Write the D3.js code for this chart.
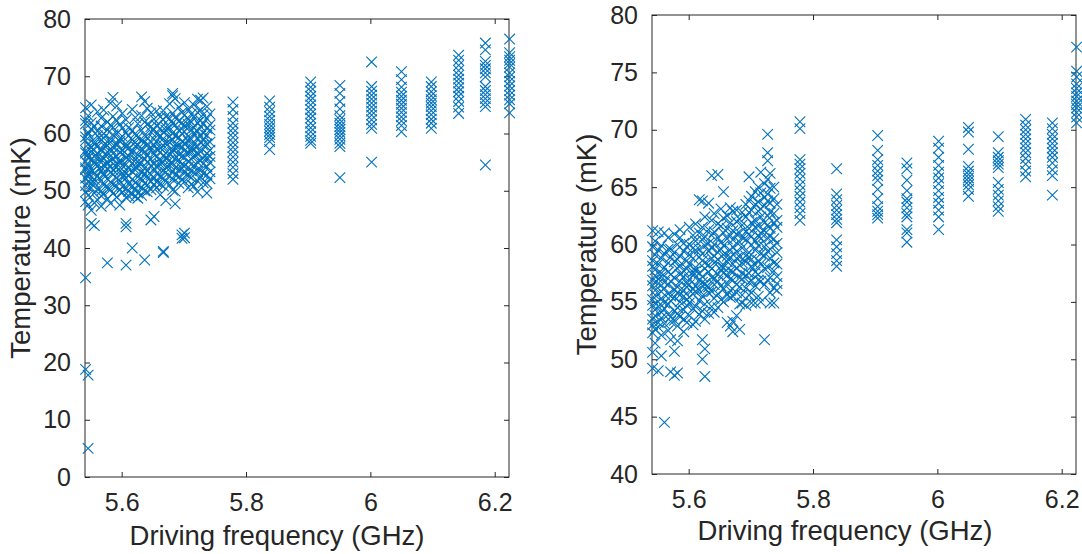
<!DOCTYPE html>
<html>
<head>
<meta charset="utf-8">
<script src="https://cdn.jsdelivr.net/npm/d3@7"></script>
<style>
  body { margin: 0; background: #fff; }
  text { font-family: "Liberation Sans", Arial, sans-serif; fill: #262626; }
</style>
</head>
<body>
<div id="container"></div>
<script>
/* CONSTANTS AND GLOBALS */
const width = 1082,
  height = 554,
  markerColor = "#0072BD",
  axisColor = "#262626";

/* DATA */
// x limits and ticks (GHz), shared by both panels
const xDomain = [5.541, 6.223];
const xTicks = [5.6, 5.8, 6, 6.2];
const leftYTicks = [0, 10, 20, 30, 40, 50, 60, 70, 80];
const rightYTicks = [40, 45, 50, 55, 60, 65, 70, 75, 80];

// dense sweep below 5.75 GHz
const clusterFreqs = [5.542, 5.546, 5.551, 5.556, 5.561, 5.567, 5.571, 5.577, 5.582, 5.586,
  5.592, 5.597, 5.601, 5.607, 5.611, 5.617, 5.622, 5.626, 5.632, 5.637,
  5.641, 5.647, 5.652, 5.656, 5.662, 5.667, 5.671, 5.677, 5.682, 5.686,
  5.692, 5.697, 5.701, 5.707, 5.712, 5.716, 5.722, 5.727, 5.731, 5.737, 5.742];

// sparse frequencies above 5.75 GHz
const columnFreqs = [5.779, 5.838, 5.904, 5.951, 6.002, 6.05, 6.098, 6.142, 6.185, 6.224];

// left panel temperatures (mK)
const leftClusterTemps = [
  [64.5, 62.3, 61.7, 59.4, 58.8, 57.0, 56.6, 55.1, 54.0, 53.7, 52.2, 50.9, 49.8, 48.1, 34.8, 18.8],
  [63.1, 60.2, 59.9, 58.1, 56.3, 55.8, 54.6, 52.9, 52.4, 51.6, 49.2, 47.5, 17.8, 5.0],
  [65.0, 61.9, 60.8, 57.5, 56.9, 55.4, 53.8, 53.3, 51.2, 50.5, 46.6, 44.3],
  [61.2, 58.6, 58.2, 56.0, 55.0, 54.8, 53.1, 52.0, 51.4, 49.6, 47.9, 43.9],
  [63.8, 60.4, 59.6, 57.7, 56.6, 55.9, 54.3, 52.6, 50.3, 48.4],
  [62.7, 61.3, 58.9, 57.2, 57.0, 55.5, 54.1, 53.5, 51.8, 50.0, 49.1, 47.3],
  [64.1, 60.0, 59.2, 58.0, 55.7, 54.5, 53.0, 52.7, 51.0, 49.4],
  [62.0, 60.6, 57.9, 56.8, 56.2, 54.9, 53.9, 52.1, 50.6, 48.6, 37.4],
  [65.3, 61.5, 59.0, 58.5, 57.3, 55.2, 54.2, 53.2, 51.5, 50.2, 47.8],
  [66.3, 63.0, 61.0, 59.8, 57.6, 56.5, 55.6, 53.6, 52.8, 51.1, 49.5],
  [64.8, 62.2, 60.0, 58.3, 57.9, 56.0, 54.7, 54.1, 52.3, 50.8, 48.9],
  [61.6, 59.1, 58.6, 56.7, 55.3, 55.0, 53.4, 51.7, 50.1, 47.5],
  [63.5, 60.9, 59.5, 57.1, 56.4, 54.4, 53.1, 52.5, 50.7, 49.7],
  [62.4, 60.1, 58.2, 57.6, 55.8, 54.6, 53.0, 52.2, 50.4, 48.8, 44.3, 43.7, 37.0],
  [61.0, 59.6, 57.4, 56.1, 55.5, 53.9, 52.7, 51.2, 49.9, 49.1],
  [64.2, 60.5, 58.9, 57.0, 56.6, 54.8, 53.3, 52.0, 50.9, 49.4, 40.0],
  [62.8, 60.0, 58.4, 57.8, 55.4, 54.2, 53.6, 51.4, 50.3, 49.0],
  [61.7, 59.3, 58.0, 56.3, 55.1, 54.5, 52.4, 51.0, 49.6, 48.7],
  [66.4, 63.1, 60.6, 58.7, 57.4, 56.9, 54.9, 53.2, 52.1, 50.6, 49.2],
  [65.6, 62.0, 59.7, 58.5, 56.8, 55.6, 54.0, 52.9, 51.3, 50.0, 37.9],
  [64.4, 61.6, 59.2, 58.1, 56.2, 55.0, 53.5, 52.6, 51.0, 49.8],
  [63.6, 61.2, 60.3, 57.6, 57.1, 55.5, 54.4, 52.8, 51.6, 50.2, 44.9],
  [62.5, 60.7, 59.0, 58.0, 56.5, 54.7, 53.8, 52.3, 51.1, 45.5],
  [63.9, 61.4, 59.9, 58.6, 57.3, 55.9, 54.2, 53.0, 51.5, 50.5],
  [62.9, 60.9, 59.5, 57.5, 56.8, 55.2, 54.6, 52.5, 51.2, 49.3],
  [64.0, 62.4, 60.2, 59.1, 57.9, 56.1, 55.0, 53.5, 52.2, 50.8, 39.4, 39.2],
  [63.0, 61.1, 60.6, 58.2, 56.6, 55.7, 54.1, 53.2, 51.7, 48.3],
  [65.2, 62.6, 61.0, 59.4, 58.4, 56.4, 55.3, 54.5, 52.6, 51.0],
  [67.0, 66.6, 63.5, 61.8, 60.1, 58.9, 57.2, 56.7, 54.8, 53.4, 52.0, 50.1],
  [66.1, 62.8, 61.5, 59.6, 58.0, 57.5, 55.6, 54.0, 52.8, 49.9, 47.7],
  [64.6, 62.1, 60.5, 59.3, 57.8, 56.3, 55.4, 53.7, 52.4, 51.3],
  [63.7, 61.9, 60.0, 58.6, 57.6, 56.0, 54.6, 53.9, 52.0, 42.3, 41.7],
  [65.4, 63.2, 61.3, 60.3, 58.3, 57.0, 55.9, 54.3, 53.1, 51.6, 42.6, 41.8],
  [64.3, 62.5, 61.6, 59.5, 58.7, 56.7, 55.1, 54.1, 52.7, 50.5],
  [63.4, 62.0, 60.7, 59.0, 57.4, 56.9, 55.5, 53.5, 52.3, 51.1],
  [65.0, 62.9, 61.0, 60.0, 58.1, 57.3, 56.1, 54.4, 53.2, 50.8],
  [66.0, 63.7, 61.9, 60.4, 59.2, 57.7, 56.4, 55.0, 53.4, 51.7, 49.8],
  [65.8, 64.1, 62.3, 61.2, 59.6, 58.4, 56.8, 55.3, 53.6, 52.4],
  [66.2, 63.3, 61.7, 60.1, 58.9, 58.0, 55.7, 54.7, 53.0, 51.4],
  [64.7, 62.6, 60.9, 59.7, 58.2, 56.5, 55.8, 54.2, 52.8, 51.3, 49.6],
  [63.4, 61.5, 60.6, 58.5, 57.1, 56.0, 54.9, 53.3, 52.1]
];
const leftColumnTemps = [
  [65.5, 64.2, 63.0, 61.8, 60.9, 60.1, 59.3, 58.4, 57.6, 56.8, 55.9, 55.0, 54.1, 53.0, 52.0],
  [65.7, 64.6, 63.8, 63.0, 62.3, 61.6, 61.0, 60.4, 59.8, 59.3, 58.6, 57.2],
  [69.0, 68.1, 67.4, 66.5, 65.8, 65.0, 64.2, 63.4, 62.7, 61.8, 61.0, 60.3, 59.5, 58.8, 58.3],
  [68.4, 67.0, 65.6, 64.3, 63.1, 62.4, 61.8, 61.2, 60.7, 60.2, 59.6, 59.0, 58.3, 57.7, 52.3],
  [72.5, 68.2, 67.4, 66.7, 66.0, 65.3, 64.6, 63.9, 63.2, 62.4, 61.6, 60.9, 55.0],
  [70.8, 69.4, 68.1, 67.2, 66.5, 65.8, 65.1, 64.4, 63.7, 62.9, 62.2, 61.4, 60.3],
  [69.0, 68.2, 67.3, 66.6, 65.9, 65.3, 64.7, 64.0, 63.3, 62.5, 61.8, 60.9],
  [73.7, 72.8, 71.9, 71.0, 70.2, 69.5, 68.8, 68.0, 67.3, 66.5, 65.6, 64.6, 63.5],
  [75.8, 74.6, 72.6, 71.9, 71.3, 70.6, 69.9, 68.2, 67.5, 66.8, 66.1, 65.4, 64.7, 54.5],
  [76.5, 74.1, 73.4, 72.8, 72.2, 71.6, 70.6, 69.9, 69.1, 68.3, 67.5, 66.7, 65.9, 65.2, 63.6]
];

// right panel temperatures (mK)
const rightClusterTemps = [
  [61.2, 59.8, 58.6, 58.1, 56.9, 56.4, 55.2, 54.7, 53.5, 53.0, 52.3, 50.6, 49.2],
  [60.3, 59.1, 57.8, 57.3, 56.0, 55.6, 54.3, 53.8, 52.6, 51.4],
  [61.1, 59.5, 58.3, 57.0, 56.6, 55.0, 54.6, 53.2, 52.8, 49.0],
  [59.9, 58.8, 57.5, 57.2, 55.9, 55.3, 54.1, 53.6, 52.1, 50.3],
  [61.0, 59.2, 58.0, 56.7, 56.2, 54.9, 54.4, 53.1, 44.5],
  [60.6, 59.6, 58.4, 57.6, 56.5, 55.7, 54.8, 53.9, 52.5],
  [59.6, 58.9, 57.4, 56.8, 55.5, 55.1, 53.7, 53.3, 51.7, 48.9],
  [60.9, 59.3, 58.5, 57.1, 56.1, 55.4, 54.2, 53.4, 50.7, 48.6],
  [60.0, 58.7, 57.9, 56.3, 55.8, 54.5, 54.0, 52.9, 51.6, 48.8],
  [61.3, 60.6, 59.0, 58.2, 57.4, 56.8, 55.6, 55.0, 53.7],
  [60.1, 59.4, 57.7, 57.2, 56.0, 55.5, 54.3, 53.5, 52.4],
  [59.8, 58.6, 57.9, 56.6, 56.3, 55.2, 54.7, 53.2],
  [61.5, 60.0, 59.1, 58.3, 57.0, 56.5, 55.4, 54.9, 53.8],
  [60.8, 59.7, 58.8, 57.6, 57.3, 56.1, 55.7, 54.4, 53.0],
  [61.8, 60.3, 59.5, 58.0, 57.7, 56.4, 55.9, 54.6, 53.3],
  [63.9, 61.0, 59.6, 58.9, 57.5, 56.9, 56.0, 55.1, 53.9],
  [63.8, 61.5, 60.4, 59.2, 58.6, 57.2, 56.7, 55.5, 54.2, 51.7, 50.0],
  [62.4, 60.7, 59.9, 58.4, 57.9, 56.6, 56.2, 54.8, 53.5, 50.9, 48.5],
  [63.6, 61.3, 60.1, 59.4, 58.2, 57.6, 56.3, 55.8, 54.0],
  [66.0, 62.1, 60.8, 59.7, 58.8, 57.9, 57.1, 55.9, 54.6],
  [62.7, 61.1, 60.0, 59.0, 58.4, 57.0, 56.5, 55.3, 54.1],
  [66.1, 61.8, 60.6, 59.3, 58.7, 57.4, 56.8, 55.7, 54.5],
  [63.1, 61.6, 60.2, 59.6, 58.1, 57.8, 56.4, 55.2],
  [64.6, 62.3, 61.0, 59.9, 59.1, 58.0, 57.5, 56.1, 55.0],
  [62.5, 61.4, 60.5, 59.0, 58.5, 57.3, 56.6, 55.6, 53.2],
  [63.2, 61.9, 60.8, 59.5, 58.9, 57.7, 57.0, 56.0, 55.4, 52.9],
  [62.9, 61.2, 60.4, 59.8, 58.3, 57.6, 56.9, 55.5, 53.3, 52.4],
  [63.0, 62.0, 60.9, 59.4, 58.8, 57.9, 56.5, 55.8, 53.8],
  [62.2, 61.0, 60.2, 58.9, 58.2, 57.1, 56.3, 54.8, 52.6],
  [62.8, 61.7, 60.6, 59.7, 58.4, 57.5, 57.0, 55.6, 54.9],
  [63.5, 62.4, 61.1, 60.4, 59.0, 58.5, 57.3, 56.2, 54.7],
  [65.9, 63.8, 62.8, 61.4, 60.9, 59.3, 58.9, 57.5, 56.7, 55.6],
  [64.2, 63.0, 61.9, 60.7, 60.0, 58.7, 58.1, 56.9, 55.8, 54.9],
  [64.6, 63.5, 62.1, 61.5, 60.3, 59.5, 58.2, 57.6, 56.4, 54.9],
  [65.0, 63.7, 62.9, 61.6, 60.8, 59.9, 58.6, 57.4, 56.9, 55.5],
  [66.3, 64.5, 63.1, 62.4, 61.0, 60.5, 59.2, 58.3, 56.8, 55.0],
  [65.3, 64.1, 63.4, 61.9, 61.2, 59.8, 59.0, 57.9, 56.5, 51.7],
  [69.6, 68.0, 67.3, 65.7, 64.4, 63.8, 62.5, 61.7, 60.6, 59.4, 58.0, 56.9],
  [66.2, 64.9, 63.6, 62.8, 61.4, 60.7, 59.6, 58.8, 57.1, 55.8, 54.9],
  [65.0, 64.0, 62.7, 61.9, 60.5, 59.9, 58.4, 57.7, 56.2, 54.9],
  [63.5, 62.1, 61.5, 60.1, 59.3, 58.3, 57.2, 56.6, 56.0]
];
const rightColumnTemps = [
  [70.7, 70.1, 67.4, 67.0, 66.6, 66.2, 65.7, 65.2, 64.7, 64.2, 63.7, 63.2, 62.7, 62.1],
  [66.6, 64.4, 63.9, 63.4, 63.0, 62.6, 62.2, 61.9, 60.4, 59.8, 59.2, 58.6, 58.1],
  [69.5, 68.2, 67.4, 66.9, 66.4, 66.0, 65.6, 64.8, 64.0, 63.3, 62.9, 62.6, 62.3],
  [67.1, 66.6, 65.6, 64.7, 64.0, 63.7, 63.2, 62.7, 62.4, 61.3, 61.0, 60.2],
  [69.0, 68.4, 67.6, 66.9, 66.3, 65.8, 65.3, 64.7, 64.1, 63.6, 63.0, 62.4, 61.3],
  [70.2, 69.8, 68.3, 66.8, 66.4, 66.1, 65.8, 65.5, 65.2, 64.8, 64.2],
  [69.4, 68.0, 67.6, 67.3, 67.0, 66.7, 65.4, 64.8, 64.3, 63.8, 63.3, 62.9],
  [70.9, 70.4, 70.0, 69.6, 69.2, 68.8, 68.4, 68.0, 67.5, 67.0, 66.4, 65.9],
  [70.6, 70.1, 69.6, 69.2, 68.8, 68.4, 68.0, 67.6, 67.1, 66.5, 66.0, 64.3],
  [77.2, 75.1, 74.6, 74.0, 73.6, 73.2, 72.9, 72.5, 72.2, 71.9, 71.5, 71.1, 70.6]
];

/* HELPERS */
function toPoints(freqs, temps) {
  return temps.flatMap((col, i) => col.map(t => ({ f: freqs[i], t: t })));
}

const panels = [
  { left: 85, right: 509, top: 19, bottom: 477, yDomain: [0, 80], yTicks: leftYTicks,
    points: toPoints(clusterFreqs, leftClusterTemps).concat(toPoints(columnFreqs, leftColumnTemps)),
    xLabelX: 277, xLabelY: 545, yLabelX: 30 },
  { left: 652, right: 1076, top: 15, bottom: 474, yDomain: [40, 80], yTicks: rightYTicks,
    points: toPoints(clusterFreqs, rightClusterTemps).concat(toPoints(columnFreqs, rightColumnTemps)),
    xLabelX: 845, xLabelY: 540, yLabelX: 596 }
];

const svg = d3.select("#container")
  .append("svg")
  .attr("width", width)
  .attr("height", height)
  .style("background", "#fff");

const xMark = "M-5.3,-5.3L5.3,5.3M-5.3,5.3L5.3,-5.3";

panels.forEach(p => {
  const xScale = d3.scaleLinear().domain(xDomain).range([p.left, p.right]);
  const yScale = d3.scaleLinear().domain(p.yDomain).range([p.bottom, p.top]);

  // box
  svg.append("rect")
    .attr("x", p.left).attr("y", p.top)
    .attr("width", p.right - p.left).attr("height", p.bottom - p.top)
    .attr("fill", "none").attr("stroke", axisColor).attr("stroke-width", 1);

  // axes with inward ticks
  const bottomAxis = svg.append("g")
    .attr("transform", `translate(0, ${p.bottom})`)
    .call(d3.axisBottom(xScale).tickValues(xTicks).tickFormat(d3.format("")).tickSize(-5).tickPadding(16));
  const topAxis = svg.append("g")
    .attr("transform", `translate(0, ${p.top})`)
    .call(d3.axisTop(xScale).tickValues(xTicks).tickFormat("").tickSize(-5));
  const leftAxis = svg.append("g")
    .attr("transform", `translate(${p.left}, 0)`)
    .call(d3.axisLeft(yScale).tickValues(p.yTicks).tickSize(-5).tickPadding(14));
  const rightAxis = svg.append("g")
    .attr("transform", `translate(${p.right}, 0)`)
    .call(d3.axisRight(yScale).tickValues(p.yTicks).tickFormat("").tickSize(-5));

  [bottomAxis, topAxis, leftAxis, rightAxis].forEach(a => {
    a.select(".domain").remove();
    a.selectAll("line").attr("stroke", axisColor);
    a.selectAll("text").style("font-size", "25px").attr("fill", axisColor);
  });

  // labels
  svg.append("text")
    .attr("x", p.xLabelX).attr("y", p.xLabelY)
    .attr("text-anchor", "middle")
    .style("font-size", "27.5px")
    .text("Driving frequency (GHz)");

  svg.append("text")
    .attr("transform", `translate(${p.yLabelX}, ${(p.top + p.bottom) / 2}) rotate(-90)`)
    .attr("text-anchor", "middle")
    .style("font-size", "27.5px")
    .text("Temperature (mK)");

  // markers
  svg.append("g")
    .selectAll(".mark")
    .data(p.points)
    .join("path")
    .attr("class", "mark")
    .attr("transform", d => `translate(${xScale(d.f)}, ${yScale(d.t)})`)
    .attr("d", xMark)
    .attr("fill", "none")
    .attr("stroke", markerColor)
    .attr("stroke-width", 1.1);
});
</script>
</body>
</html>
